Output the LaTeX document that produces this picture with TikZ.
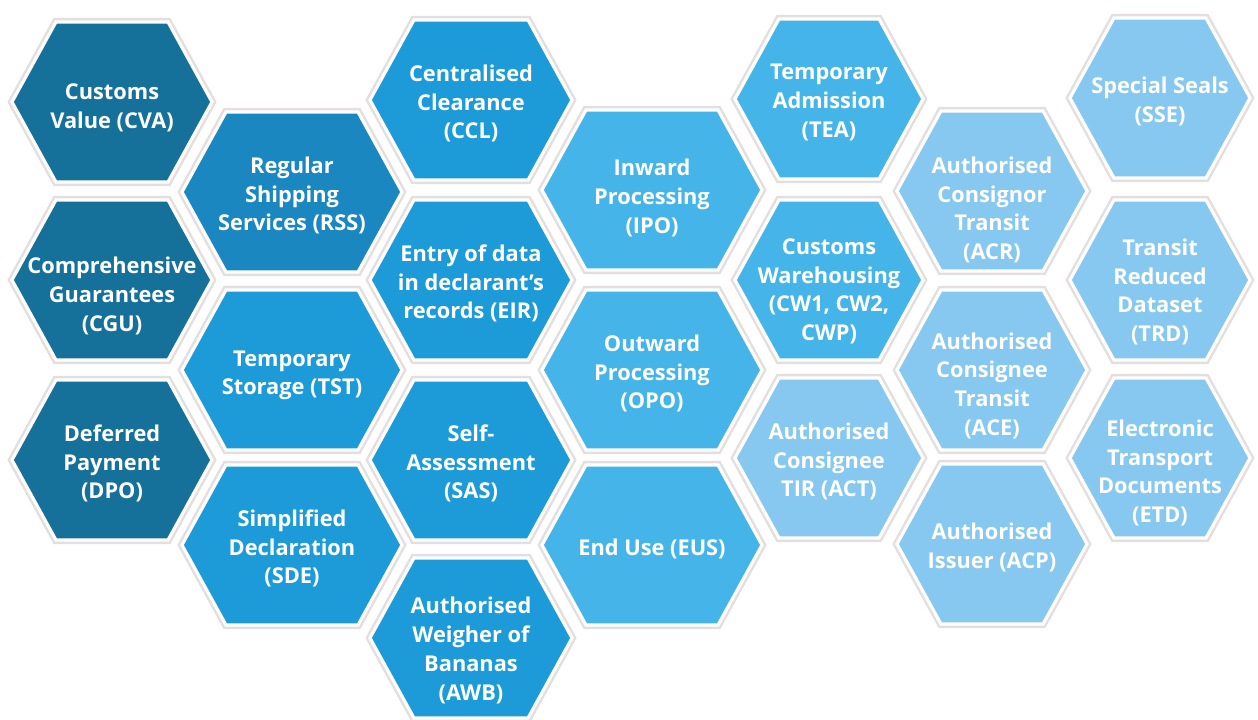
\documentclass[tikz,border=0pt]{standalone}
\usepackage{fontspec}
\setmainfont{Open Sans}

\definecolor{navy}{HTML}{15709A}
\definecolor{ocean}{HTML}{1B87C1}
\definecolor{azure}{HTML}{1C9BD8}
\definecolor{sky}{HTML}{45B5E9}
\definecolor{pale}{HTML}{86C8EF}
\definecolor{mist}{HTML}{E4DEDE}

\tikzset{
  halo/.style={draw=mist, line width=4.6pt, line join=miter},
  cell/.style={draw=white, line width=1.8pt, line join=miter},
  hextext/.style={text=white, align=center,
    font=\bfseries\fontsize{12.4}{16.4}\selectfont},
}

% [text shift]{name}{cx}{cy}{half width}{colour}{text}
\newcommand{\hexcell}[7][yshift=-2pt]{%
  \path[halo] (#3-#5,#4) -- (#3-#5+44,#4-80) -- (#3+#5-44,#4-80)
    -- (#3+#5,#4) -- (#3+#5-44,#4+80) -- (#3-#5+44,#4+80) -- cycle;
  \path[cell, fill=#6] (#3-#5,#4) -- (#3-#5+44,#4-80) -- (#3+#5-44,#4-80)
    -- (#3+#5,#4) -- (#3+#5-44,#4+80) -- (#3-#5+44,#4+80) -- cycle;
  \node[hextext, #1] (#2) at (#3,#4) {#7};
}

\begin{document}
\begin{tikzpicture}[x=0.02cm, y=-0.02cm]
    \useasboundingbox (0,0) rectangle (1258,720);
    % first column
    \hexcell[yshift=-3.4pt]{cva}{112}{102}{100}{navy}{Customs\\Value (CVA)}
    \hexcell[yshift=-9pt]{cgu}{112}{280}{100}{navy}{Comprehensive\\Guarantees\\(CGU)}
    \hexcell{dpo}{112}{460}{100}{navy}{Deferred\\Payment\\(DPO)}
    % second column
    \hexcell{rss}{292}{192}{110}{ocean}{Regular\\Shipping\\Services (RSS)}
    \hexcell[yshift=-3pt]{tst}{292}{370}{110}{azure}{Temporary\\Storage (TST)}
    \hexcell{sde}{292}{545}{110}{azure}{Simplified\\Declaration\\(SDE)}
    % third column
    \hexcell{ccl}{471}{100}{101}{azure}{Centralised\\Clearance\\(CCL)}
    \hexcell{eir}{471}{280}{101}{azure}{Entry of data\\in declarant’s\\records (EIR)}
    \hexcell{sas}{471}{460}{101}{azure}{Self-\\Assessment\\(SAS)}
    \hexcell[yshift=-7pt]{awb}{471}{638}{101}{azure}{Authorised\\Weigher of\\Bananas\\(AWB)}
    % fourth column
    \hexcell[yshift=-4.5pt]{ipo}{652}{190}{110}{sky}{Inward\\Processing\\(IPO)}
    \hexcell{opo}{652}{370}{110}{sky}{Outward\\Processing\\(OPO)}
    \hexcell{eus}{652}{545}{110}{sky}{End Use (EUS)}
    % fifth column
    \hexcell{tea}{829}{99}{94}{sky}{Temporary\\Admission\\(TEA)}
    \hexcell[yshift=-6.5pt]{cwh}{829}{280}{94}{sky}{Customs\\Warehousing\\(CW1, CW2,\\CWP)}
    \hexcell{act}{829}{458}{94}{pale}{Authorised\\Consignee\\TIR (ACT)}
    % sixth column
    \hexcell[yshift=-10.8pt]{acr}{992}{191}{95}{pale}{Authorised\\Consignor\\Transit\\(ACR)}
    \hexcell[yshift=-9pt]{ace}{992}{370}{95}{pale}{Authorised\\Consignee\\Transit\\(ACE)}
    \hexcell{acp}{992}{544}{95}{pale}{Authorised\\Issuer (ACP)}
    % seventh column
    \hexcell{sse}{1160}{98}{90}{pale}{Special Seals\\(SSE)}
    \hexcell[yshift=-6.8pt]{trd}{1160}{280}{90}{pale}{Transit\\Reduced\\Dataset\\(TRD)}
    \hexcell[yshift=-8.5pt]{etd}{1160}{458}{90}{pale}{Electronic\\Transport\\Documents\\(ETD)}
\end{tikzpicture}
\end{document}
